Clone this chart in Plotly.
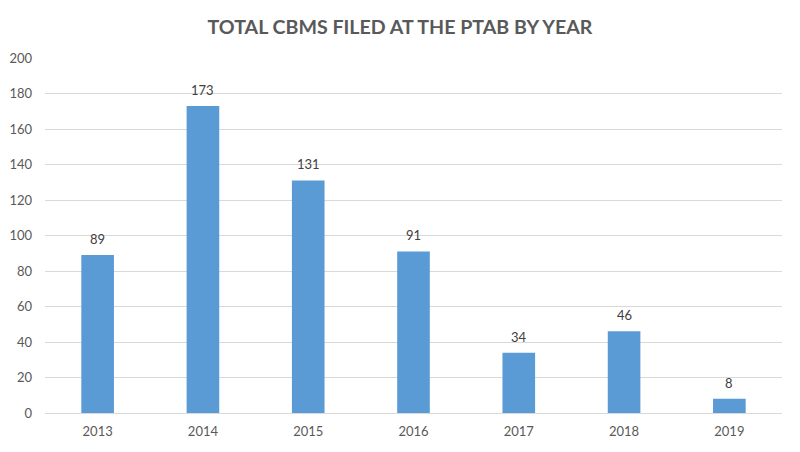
import plotly.graph_objects as go

years = ["2013", "2014", "2015", "2016", "2017", "2018", "2019"]
cbms = [89, 173, 131, 91, 34, 46, 8]
y_ticks = [0, 20, 40, 60, 80, 100, 120, 140, 160, 180, 200]

fig = go.Figure(go.Bar(
    x=years, y=cbms,
    marker=dict(color="#5B9BD5", line=dict(width=0)),
    cliponaxis=False,
))
# value labels above the bars (x given as category index)
for i, v in enumerate(cbms):
    fig.add_annotation(x=i, y=v, text=str(v), showarrow=False, yanchor="bottom",
                       yshift=6, font=dict(family="Lato", size=13, color="#404040"))
fig.update_layout(
    width=800, height=452,
    margin=dict(l=37, r=26, t=50, b=47, autoexpand=False),
    paper_bgcolor="white", plot_bgcolor="white",
    title=dict(text="<b>TOTAL CBMS FILED AT THE PTAB BY YEAR</b>", x=0.49, xanchor="center",
               y=0.958, yanchor="middle",
               font=dict(family="Lato", size=19.6, color="#595959")),
    bargap=0.69,
    showlegend=False,
    font=dict(family="Lato", size=12, color="#595959"),
)
fig.update_yaxes(range=[0, 200], tickvals=y_ticks, showgrid=True, gridcolor="#D9D9D9",
                 gridwidth=1, zeroline=False, showline=False, ticks="", ticklabelstandoff=12,
                 tickfont=dict(family="Lato", size=13, color="#595959"))
fig.update_xaxes(type="category", showline=True, linecolor="#D9D9D9", linewidth=1, ticks="",
                 ticklabelstandoff=6,
                 tickfont=dict(family="Lato", size=13, color="#595959"))
fig.write_html("out.html")
